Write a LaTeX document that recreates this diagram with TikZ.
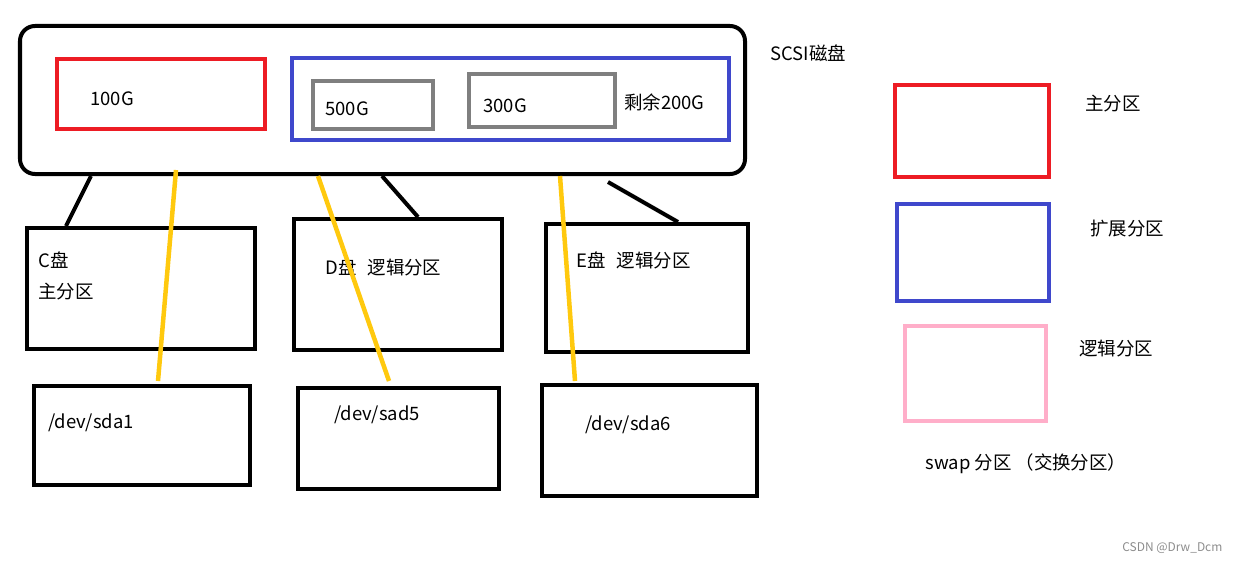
\documentclass[tikz,border=0pt]{standalone}
\usepackage{fontspec}
\setmainfont{Noto Sans CJK SC}
\usepackage{tikz}
\usetikzlibrary{calc}

\definecolor{primred}{HTML}{ED1C24}
\definecolor{extblue}{HTML}{3F48CC}
\definecolor{loggray}{HTML}{7F7F7F}
\definecolor{logpink}{HTML}{FFAEC9}
\definecolor{mapyellow}{HTML}{FFC90E}

\begin{document}
\begin{tikzpicture}
        [box/.style={draw, line width=0.08cm, inner sep=0pt},
         primary/.style={box, draw=primred, line width=0.09cm},
         extended/.style={box, draw=extblue},
         logical/.style={box, draw=loggray},
         lbl/.style={anchor=west, inner sep=0pt, font=\fontsize{10.5}{12}\selectfont},
         link/.style={line width=0.08cm},
         map/.style={line width=0.09cm, draw=mapyellow}]
      \useasboundingbox (0,0) rectangle (24.78,-11.26);
      % disk and its partitions
      \node[box, rounded corners=0.3cm, minimum width=14.5cm, minimum height=2.96cm] (disk) at (7.65,-2.0) {};
      \node[lbl] (diskname) at (15.4,-1.06) {SCSI磁盘};
      \node[primary, minimum width=4.16cm, minimum height=1.4cm] (p100) at (3.22,-1.88) {};
      \node[lbl] (t100) at (1.8,-1.98) {100G};
      \node[extended, minimum width=8.74cm, minimum height=1.64cm] (ext) at (10.21,-1.98) {};
      \node[logical, minimum width=2.4cm, minimum height=0.96cm] (p500) at (7.46,-2.10) {};
      \node[lbl] (t500) at (6.5,-2.18) {500G};
      \node[logical, minimum width=2.92cm, minimum height=1.06cm] (p300) at (10.84,-2.01) {};
      \node[lbl] (t300) at (9.66,-2.12) {300G};
      \node[lbl] (trest) at (12.48,-2.04) {剩余200G};
      % drives
      \node[box, minimum width=4.56cm, minimum height=2.42cm] (cdrv) at (2.82,-5.77) {};
      \node[lbl] (tc) at (0.76,-5.2) {C盘};
      \node[lbl] (tcp) at (0.76,-5.84) {主分区};
      \node[box, minimum width=4.16cm, minimum height=2.62cm] (ddrv) at (7.96,-5.69) {};
      \node[lbl] (td) at (6.5,-5.34) {D盘\hspace{0.6em}逻辑分区};
      \node[box, minimum width=4.04cm, minimum height=2.56cm] (edrv) at (12.94,-5.76) {};
      \node[lbl] (te) at (11.52,-5.2) {E盘\hspace{0.6em}逻辑分区};
      % devices
      \node[box, minimum width=4.32cm, minimum height=1.98cm] (sda1) at (2.84,-8.71) {};
      \node[lbl] (tsda1) at (0.96,-8.46) {/dev/sda1};
      \node[box, minimum width=4.02cm, minimum height=2.02cm] (sad5) at (7.97,-8.77) {};
      \node[lbl] (tsad5) at (6.68,-8.3) {/dev/sad5};
      \node[box, minimum width=4.3cm, minimum height=2.22cm] (sda6) at (12.99,-8.81) {};
      \node[lbl] (tsda6) at (11.7,-8.5) {/dev/sda6};
      % legend
      \node[primary, minimum width=3.08cm, minimum height=1.84cm] (legp) at (19.44,-2.62) {};
      \node[lbl] (tlegp) at (21.7,-2.08) {主分区};
      \node[extended, minimum width=3.04cm, minimum height=1.94cm] (lege) at (19.46,-5.05) {};
      \node[lbl] (tlege) at (21.8,-4.58) {扩展分区};
      \node[box, draw=logpink, minimum width=2.82cm, minimum height=1.9cm] (legl) at (19.51,-7.47) {};
      \node[lbl] (tlegl) at (21.58,-6.98) {逻辑分区};
      \node[lbl] (tswap) at (18.5,-9.28) {swap 分区 （交换分区）};
      \node[anchor=west, inner sep=0pt, text=black!45, font=\fontsize{6.8}{8}\selectfont] (mark) at (22.44,-10.96) {CSDN @Drw\_Dcm};
      % disk to drives
      \draw[link] ($(disk.south west)+(1.46,0)$) -- ($(cdrv.north west)+(0.82,0)$);
      \draw[link] ($(disk.south west)+(7.28,0)$) -- ($(ddrv.north west)+(2.52,0)$);
      \draw[link] ($(disk.south west)+(11.8,-0.12)$) -- ($(edrv.north west)+(2.68,0)$);
      % partitions to devices
      \draw[map] ($(disk.south west)+(3.16,0.12)$) -- ($(sda1.north west)+(2.52,0.06)$);
      \draw[map] ($(disk.south west)+(6.0,0)$) -- ($(sad5.north west)+(1.86,0.1)$);
      \draw[map] ($(disk.south west)+(10.84,0)$) -- ($(sda6.north west)+(0.7,0.04)$);
\end{tikzpicture}
\end{document}
